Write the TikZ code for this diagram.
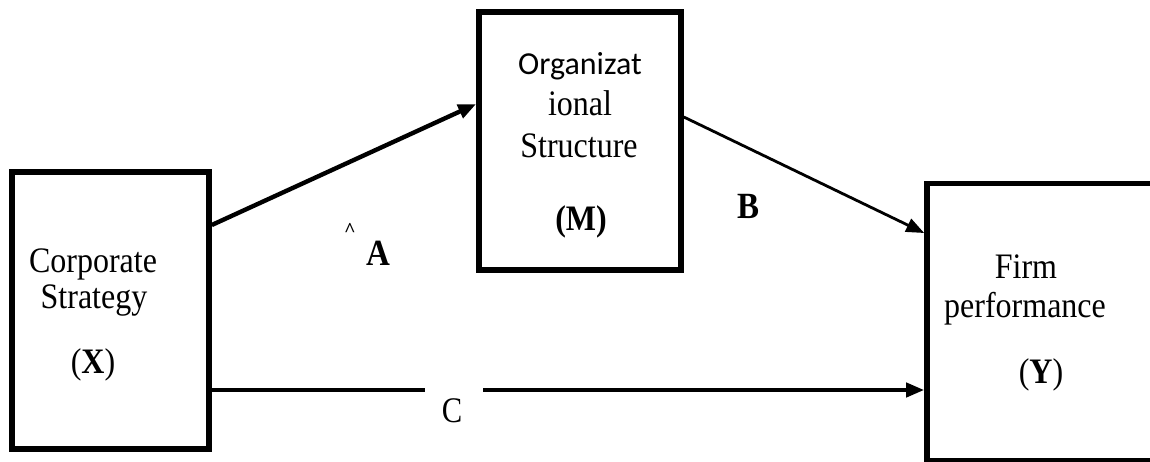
\documentclass[tikz,border=0pt]{standalone}
\usepackage{fontspec}
\setmainfont{Liberation Serif}
\newfontfamily\calibrifont{Carlito}
\usetikzlibrary{arrows.meta}
\newcommand{\vstr}[1]{\scalebox{1}[1.12]{#1}}
\tikzset{
  box/.style={draw=black, line width=2.8pt, inner sep=0pt, fill=none},
  txt/.style={anchor=base, inner sep=0pt, font=\fontsize{16}{18}\selectfont},
  lbl/.style={anchor=base, inner sep=0pt, font=\fontsize{16.5}{18}\selectfont\bfseries},
  arr/.style={draw=black, -{Triangle[length=9pt,width=7pt]}},
}
\begin{document}
\begin{tikzpicture}[x=0.5pt,y=-0.5pt]
\useasboundingbox (0,0) rectangle (1150,461);
\clip (0,0) rectangle (1150,461);
% boxes
\node[box, minimum width=98.5pt, minimum height=138.5pt] (X) at (110.5,310.5) {};
\node[box, minimum width=101pt, minimum height=129pt] (M) at (580,141) {};
\node[box, minimum width=114pt, minimum height=138.5pt] (Y) at (1041,322) {};
% texts
\node[txt] (x1) at (93,272) {\vstr{Corporate}};
\node[txt] (x2) at (94,308) {\vstr{Strategy}};
\node[txt] (x3) at (93,373) {\vstr{(\textbf{X})}};
\node[txt, font=\fontsize{16}{18}\calibrifont] (m1) at (580,74) {Organizat};
\node[txt] (m2) at (580,115) {\vstr{ional}};
\node[txt] (m3) at (579,157) {\vstr{Structure}};
\node[txt, font=\fontsize{16}{18}\selectfont\bfseries] (m4) at (581,230) {\vstr{(M)}};
\node[txt] (y1) at (1026,278) {\vstr{Firm}};
\node[txt] (y2) at (1025,317) {\vstr{performance}};
\node[txt] (y3) at (1041,383) {\vstr{(\textbf{Y})}};
% labels
\node[lbl] (la) at (378,265) {\vstr{A}};
\node[lbl] (lb) at (748,218) {\vstr{B}};
\node[txt, font=\fontsize{18}{20}\selectfont] (lc) at (452,422) {\scalebox{0.85}[1]{C}};
\node[anchor=base, inner sep=0pt, font=\fontsize{10}{10}\selectfont\bfseries] (mk) at (350,236) {\^{}};
% connector helpers
\coordinate (ya) at (0,225);
\coordinate (ya2) at (0,104);
\coordinate (yb) at (0,117);
\coordinate (yb2) at (0,233);
\coordinate (yc) at (0,390);
\coordinate (g1) at (425,390);
\coordinate (g2) at (483,390);
% connectors
\draw[arr, line width=2.2pt] (X.east |- ya) -- (M.west |- ya2);
\draw[arr, line width=1.4pt] (M.east |- yb) -- (Y.west |- yb2);
\draw[draw=black, line width=2pt] (X.east |- yc) -- (g1);
\draw[arr, line width=2pt] (g2) -- (Y.west |- yc);
\end{tikzpicture}
\end{document}
